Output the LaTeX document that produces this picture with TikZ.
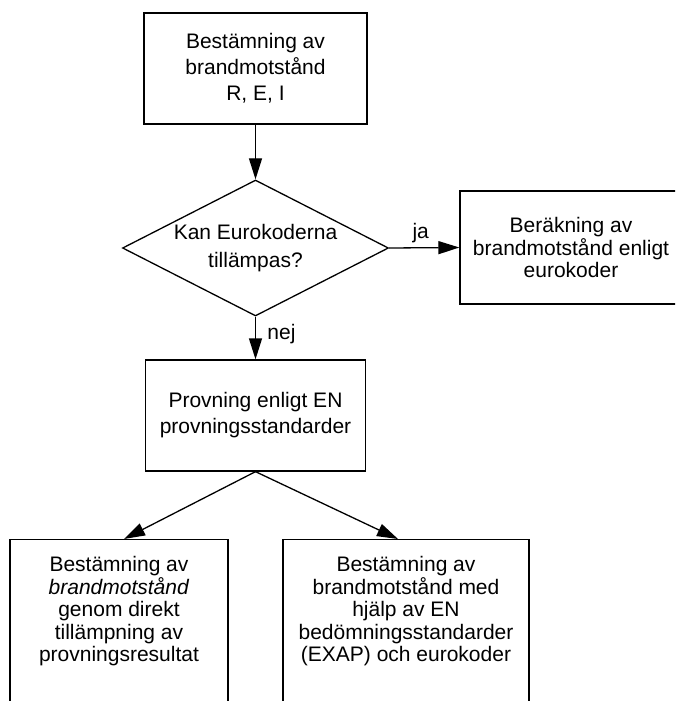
\documentclass[tikz,border=0pt]{standalone}
\usepackage{fontspec}
\setmainfont{Liberation Sans}
\usetikzlibrary{shapes.geometric, arrows.meta}

\begin{document}
\begin{tikzpicture}[x=1pt, y=-1pt,
        flowbox/.style={draw, line width=1.3pt, align=center, inner sep=0pt,
                        font=\fontsize{21pt}{26pt}\selectfont},
        tightbox/.style={flowbox, font=\fontsize{21pt}{22.5pt}\selectfont},
        question/.style={diamond, draw, line width=1.3pt, align=center, inner sep=0pt,
                         aspect=1.96, minimum width=266pt, minimum height=136pt,
                         font=\fontsize{21pt}{28pt}\selectfont},
        flow/.style={line width=1.3pt, arrows={-Triangle[length=21pt, width=13pt]}},
        answer/.style={font=\fontsize{21pt}{26pt}\selectfont}]

        % Frame:
        \useasboundingbox (0, 0) rectangle (675, 701);
        \clip (0, 0) rectangle (675, 701);

        % Boxes:
        \node[flowbox, minimum width=223pt, minimum height=111pt] (bestamning) at (255.5, 68.5)
            {Bestämning av\\brandmotstånd\\R, E, I};
        \node[question] (eurokod) at (255.5, 248) {Kan Eurokoderna\\tillämpas?};
        \node[tightbox, minimum width=222pt, minimum height=113pt] (berakning) at (571, 247.5)
            {Beräkning av\\brandmotstånd enligt\\eurokoder};
        \node[flowbox, minimum width=220pt, minimum height=111pt] (provning) at (255.5, 415.5)
            {Provning enligt EN\\provningsstandarder};
        \node[tightbox, anchor=north, minimum width=218pt, inner ysep=17pt, text depth=45pt] (direkt) at (119, 539)
            {Bestämning av\\\textit{brandmotstånd}\\genom direkt\\tillämpning av\\provningsresultat};
        \node[tightbox, anchor=north, minimum width=246pt, inner ysep=17pt, text depth=45pt] (exap) at (406, 539)
            {Bestämning av\\brandmotstånd med\\hjälp av EN\\bedömningsstandarder\\(EXAP) och eurokoder};

        % Arrows:
        \draw[flow] (bestamning) -- (eurokod);
        \draw[flow] (eurokod.east) -- (berakning.west) node[answer, pos=0.45, above, yshift=1pt] {ja};
        \draw[flow] (eurokod.south) -- (provning.north) node[answer, pos=0.4, right, xshift=8pt] {nej};
        \draw[flow] (provning.south) -- ([xshift=5pt]direkt.north);
        \draw[flow] (provning.south) -- ([xshift=-8pt]exap.north);
    \end{tikzpicture}
\end{document}
